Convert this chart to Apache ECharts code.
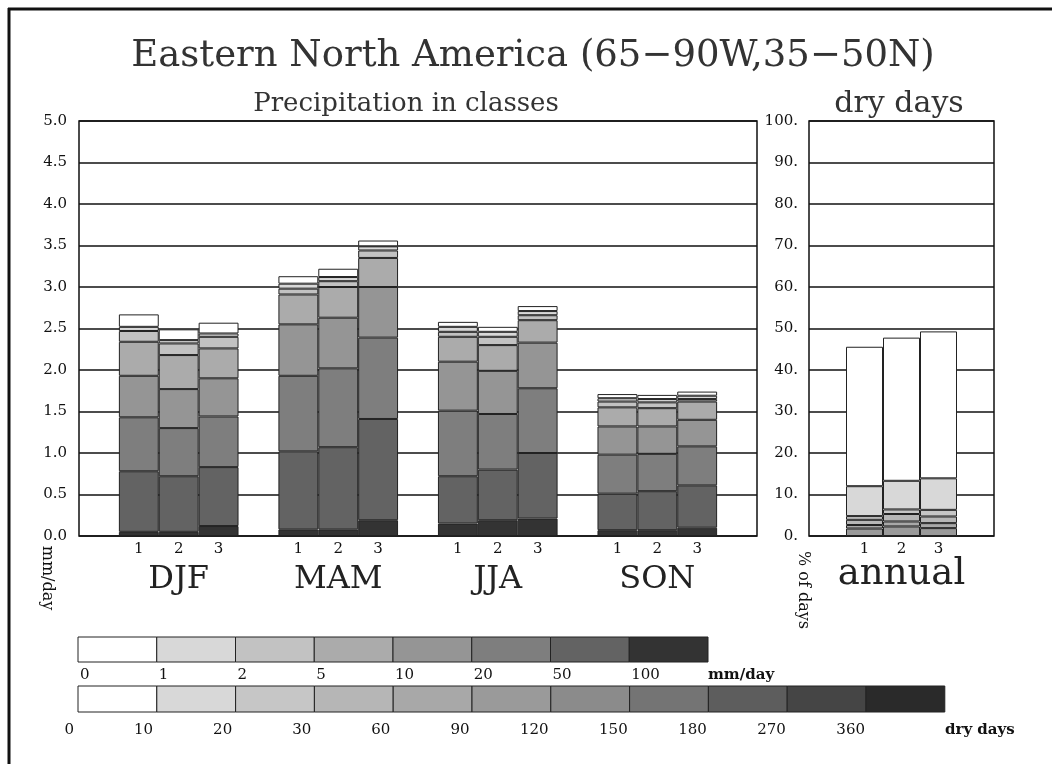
<!DOCTYPE html>
<html><head><meta charset="utf-8">
<script src="https://cdn.jsdelivr.net/npm/echarts@6/dist/echarts.min.js"></script>
<style>html,body{margin:0;padding:0;background:#fff}#c{width:1052px;height:764px}</style>
</head><body><div id="c"></div>
<script>
// ---------- data ----------
const seasons = ['DJF', 'MAM', 'JJA', 'SON'];
const barIds = ['1', '2', '3'];
const precipClasses = ['0-1', '1-2', '2-5', '5-10', '10-20', '20-50', '50-100', '>100'];
const precipTicks = ['0', '1', '2', '5', '10', '20', '50', '100'];
const dryClasses = ['0-10', '10-20', '20-30', '30-60', '60-90', '90-120', '120-150', '150-180', '180-270', '270-360', '>360'];
const dryTicks = ['0', '10', '20', '30', '60', '90', '120', '150', '180', '270', '360'];
const leftTicks = [0, 0.5, 1, 1.5, 2, 2.5, 3, 3.5, 4, 4.5, 5];
const rightTicks = [0, 10, 20, 30, 40, 50, 60, 70, 80, 90, 100];

// mm/day contributed by each precipitation class (order of precipClasses), bars 1..3
const DJF = [
  [0.15, 0.05, 0.13, 0.41, 0.50, 0.65, 0.73, 0.05],
  [0.13, 0.04, 0.14, 0.41, 0.47, 0.58, 0.67, 0.05],
  [0.13, 0.04, 0.14, 0.36, 0.46, 0.61, 0.71, 0.12]
];
const MAM = [
  [0.09, 0.06, 0.07, 0.36, 0.62, 0.91, 0.94, 0.08],
  [0.10, 0.05, 0.07, 0.37, 0.61, 0.95, 0.99, 0.08],
  [0.07, 0.05, 0.09, 0.35, 0.61, 0.98, 1.22, 0.19]
];
const JJA = [
  [0.06, 0.06, 0.06, 0.30, 0.59, 0.79, 0.57, 0.15],
  [0.06, 0.06, 0.10, 0.31, 0.52, 0.67, 0.61, 0.19],
  [0.06, 0.05, 0.06, 0.27, 0.55, 0.78, 0.79, 0.21]
];
const SON = [
  [0.05, 0.04, 0.07, 0.23, 0.34, 0.47, 0.44, 0.07],
  [0.05, 0.04, 0.07, 0.22, 0.33, 0.45, 0.47, 0.07],
  [0.05, 0.04, 0.03, 0.22, 0.32, 0.47, 0.51, 0.10]
];
// % of days per dry-day class (first six classes), bars 1..3
const ANNUAL = [
  [33.6, 7.2, 0.9, 1.25, 0.85, 1.8],
  [34.5, 6.9, 1.1, 1.8, 1.2, 2.3],
  [35.4, 7.6, 1.6, 1.6, 1.2, 1.9]
];

// ---------- styles ----------
const precipColors = ['#ffffff', '#d8d8d8', '#c2c2c2', '#ababab', '#959595', '#7e7e7e', '#636363', '#333333'];
const dryColors = ['#ffffff', '#d8d8d8', '#c6c6c6', '#b6b6b6', '#a8a8a8', '#9a9a9a', '#8b8b8b', '#747474', '#5d5d5d', '#454545', '#2a2a2a'];
const serif = 'DejaVu Serif';
const ink = '#111';

const seasonData = [DJF, MAM, JJA, SON];
// category slots: gap, 3 bars, gap, 3 bars ... gap
const slots = ['g0'];
seasons.forEach((s, i) => { barIds.forEach(b => slots.push(s + ' ' + b)); slots.push('g' + (i + 1)); });
const annualSlots = ['a0', 'annual 1', 'annual 2', 'annual 3', 'a4'];

const series = [];
for (let k = precipClasses.length - 1; k >= 0; k--) {
  const data = ['-'];
  seasonData.forEach(sd => { sd.forEach(bar => data.push(bar[k])); data.push('-'); });
  series.push({
    name: precipClasses[k] + ' mm/day', type: 'bar', stack: 'p', xAxisIndex: 0, yAxisIndex: 0,
    barWidth: '100%', data: data,
    itemStyle: { color: precipColors[k], borderColor: '#222', borderWidth: 1 }
  });
}
for (let k = ANNUAL[0].length - 1; k >= 0; k--) {
  const data = ['-'];
  ANNUAL.forEach(bar => data.push(bar[k]));
  data.push('-');
  series.push({
    name: dryClasses[k] + ' dry days', type: 'bar', stack: 'd', xAxisIndex: 2, yAxisIndex: 1,
    barWidth: '100%', data: data,
    itemStyle: { color: dryColors[k], borderColor: '#222', borderWidth: 1 }
  });
}

// ---------- legend graphics ----------
const graphic = [
  { type: 'line', shape: { x1: 8, y1: 9, x2: 1052, y2: 9 }, style: { stroke: '#111', lineWidth: 3 } },
  { type: 'line', shape: { x1: 9, y1: 8, x2: 9, y2: 764 }, style: { stroke: '#111', lineWidth: 3 } },
  { type: 'text', x: 533, y: 56, style: { text: 'Eastern North America (65\u221290W,35\u221250N)', font: '37px "' + serif + '"', fill: '#333', align: 'center', verticalAlign: 'middle' } },
  { type: 'text', x: 406, y: 104, style: { text: 'Precipitation in classes', font: '26px "' + serif + '"', fill: '#333', align: 'center', verticalAlign: 'middle' } },
  { type: 'text', x: 899, y: 104, style: { text: 'dry days', font: '30px "' + serif + '"', fill: '#333', align: 'center', verticalAlign: 'middle' } },
  { type: 'text', x: 47, y: 578, rotation: -Math.PI / 2, style: { text: 'mm/day', font: '16px "' + serif + '"', fill: ink, align: 'center', verticalAlign: 'middle' } },
  { type: 'text', x: 803, y: 590, rotation: -Math.PI / 2, style: { text: '% of days', font: '16px "' + serif + '"', fill: ink, align: 'center', verticalAlign: 'middle' } }
];
const bw1 = 78.75;
precipTicks.forEach((t, i) => {
  graphic.push({ type: 'rect', shape: { x: 78 + i * bw1, y: 637, width: bw1, height: 25 }, style: { fill: precipColors[i], stroke: '#222', lineWidth: 1 } });
  graphic.push({ type: 'text', x: 80 + i * bw1, y: 675, style: { text: t, font: '15px "' + serif + '"', fill: ink, align: 'left', verticalAlign: 'middle' } });
});
graphic.push({ type: 'text', x: 708, y: 675, style: { text: 'mm/day', font: 'bold 15px "' + serif + '"', fill: ink, align: 'left', verticalAlign: 'middle' } });
const bw2 = 78.8;
dryTicks.forEach((t, i) => {
  graphic.push({ type: 'rect', shape: { x: 78 + i * bw2, y: 686, width: bw2, height: 26 }, style: { fill: dryColors[i], stroke: '#222', lineWidth: 1 } });
  graphic.push({ type: 'text', x: 74 + i * 79.1, y: 730, style: { text: t, font: '15px "' + serif + '"', fill: ink, align: 'right', verticalAlign: 'middle' } });
});
graphic.push({ type: 'text', x: 945, y: 730, style: { text: 'dry days', font: 'bold 15px "' + serif + '"', fill: ink, align: 'left', verticalAlign: 'middle' } });

const gridStyle = { show: true, borderColor: '#111', borderWidth: 1.5, backgroundColor: 'transparent' };
const splitLine = { show: true, lineStyle: { color: '#111', width: 1.5 } };
const tickFont = { fontFamily: serif, fontSize: 15, color: ink };

const option = {
  animation: false,
  backgroundColor: '#fff',
  grid: [
    Object.assign({ left: 79, top: 121, width: 678, height: 415 }, gridStyle),
    Object.assign({ left: 809, top: 121, width: 185, height: 415 }, gridStyle)
  ],
  xAxis: [
    { type: 'category', gridIndex: 0, data: slots, axisLine: { show: false }, axisTick: { show: false },
      axisLabel: Object.assign({ interval: 0, margin: 6, formatter: v => v.includes(' ') ? v.split(' ')[1] : '' }, tickFont) },
    { type: 'category', gridIndex: 0, data: slots, position: 'bottom', axisLine: { show: false }, axisTick: { show: false },
      axisLabel: { interval: 0, margin: 28, fontFamily: serif, fontSize: 32, color: '#222', formatter: v => v.endsWith(' 2') ? v.split(' ')[0] : '' } },
    { type: 'category', gridIndex: 1, data: annualSlots, axisLine: { show: false }, axisTick: { show: false },
      axisLabel: Object.assign({ interval: 0, margin: 6, formatter: v => v.includes(' ') ? v.split(' ')[1] : '' }, tickFont) },
    { type: 'category', gridIndex: 1, data: annualSlots, position: 'bottom', axisLine: { show: false }, axisTick: { show: false },
      axisLabel: { interval: 0, margin: 20, fontFamily: serif, fontSize: 37, color: '#222', formatter: v => v === 'annual 2' ? 'annual' : '' } }
  ],
  yAxis: [
    { type: 'value', gridIndex: 0, min: leftTicks[0], max: leftTicks[leftTicks.length - 1], interval: 0.5,
      axisLine: { show: false }, axisTick: { show: false }, splitLine: splitLine,
      axisLabel: Object.assign({ margin: 12, formatter: v => v.toFixed(1) }, tickFont) },
    { type: 'value', gridIndex: 1, min: rightTicks[0], max: rightTicks[rightTicks.length - 1], interval: 10,
      axisLine: { show: false }, axisTick: { show: false }, splitLine: splitLine,
      axisLabel: Object.assign({ margin: 11, formatter: v => v + '.' }, tickFont) }
  ],
  series: series,
  graphic: graphic
};
const chart = echarts.init(document.getElementById('c'), null, { renderer: 'canvas' });
chart.setOption(option);
</script>
</body></html>
